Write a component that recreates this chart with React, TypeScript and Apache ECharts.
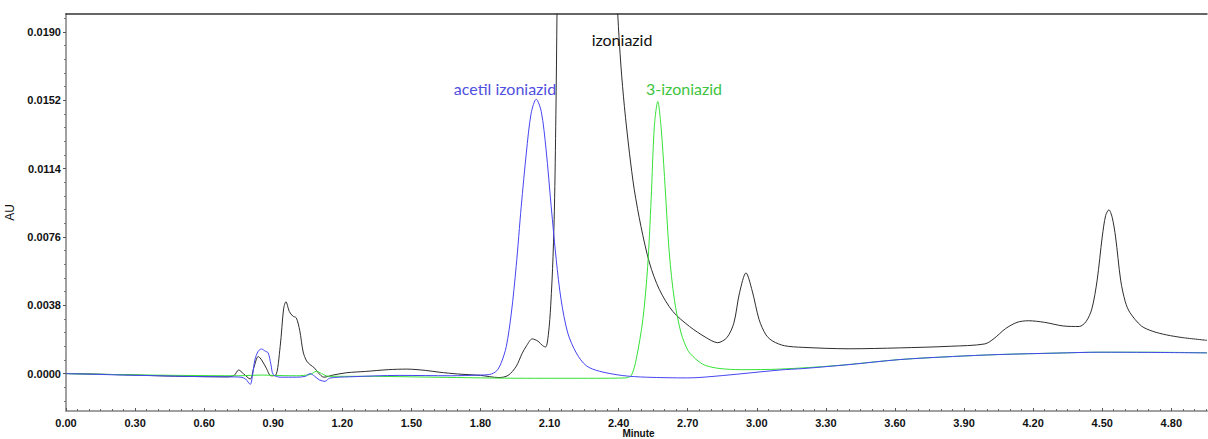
import React, { useEffect, useRef } from "react";
import * as echarts from "echarts";

// Retention time (minutes) and absorbance (AU) for each trace
const izoniazidT = [0.0, 0.1, 0.2, 0.3, 0.4, 0.5, 0.6, 0.7, 0.73, 0.75, 0.77, 0.8, 0.815, 0.835, 0.85, 0.87, 0.89, 0.91, 0.93, 0.945, 0.955, 0.97, 0.985, 1.0, 1.015, 1.03, 1.045, 1.06, 1.08, 1.095, 1.12, 1.16, 1.22, 1.3, 1.4, 1.48, 1.56, 1.62, 1.7, 1.8, 1.88, 1.92, 1.955, 1.98, 2.0, 2.025, 2.05, 2.07, 2.083, 2.095, 2.105, 2.115, 2.122, 2.128, 2.133, 2.14, 2.17, 2.22, 2.28, 2.34, 2.375, 2.396, 2.41, 2.425, 2.447, 2.468, 2.497, 2.534, 2.577, 2.635, 2.707, 2.78, 2.83, 2.87, 2.9, 2.925, 2.953, 2.98, 3.01, 3.04, 3.07, 3.12, 3.2, 3.4, 3.62, 3.84, 3.99, 4.03, 4.08, 4.13, 4.18, 4.25, 4.33, 4.4, 4.43, 4.455, 4.478, 4.5, 4.515, 4.529, 4.543, 4.558, 4.58, 4.6, 4.62, 4.67, 4.72, 4.78, 4.85, 4.955];
const izoniazidV = [0.0, -0.00002, -0.00005, -0.00008, -0.00012, -0.00015, -0.00017, -0.00018, -0.0001, 0.0002, 0.0, -0.0003, 0.0003, 0.00095, 0.00075, 0.0003, -0.00012, -0.0001, 0.0015, 0.0036, 0.004, 0.00345, 0.0032, 0.0031, 0.0024, 0.0012, 0.0007, 0.0005, 0.0003, 0.00005, -0.0002, -0.00008, 0.00005, 0.00012, 0.00022, 0.00025, 0.00018, 0.00008, -0.00002, -0.0001, -0.00022, -0.0001, 0.0004, 0.0011, 0.00155, 0.00193, 0.0018, 0.00155, 0.00148, 0.0022, 0.0038, 0.0065, 0.0098, 0.015, 0.021, 0.029, 0.042, 0.05, 0.047, 0.035, 0.026, 0.02, 0.0171, 0.01485, 0.01226, 0.01022, 0.00818, 0.00615, 0.00467, 0.00346, 0.00263, 0.002, 0.00172, 0.002, 0.0028, 0.0045, 0.0056, 0.0046, 0.003, 0.00215, 0.0018, 0.00155, 0.00146, 0.00138, 0.00143, 0.00152, 0.00165, 0.00195, 0.0025, 0.00285, 0.00294, 0.00285, 0.00265, 0.00262, 0.0029, 0.0036, 0.0052, 0.0076, 0.0088, 0.00911, 0.0087, 0.0076, 0.0052, 0.004, 0.0034, 0.00265, 0.00235, 0.00215, 0.002, 0.00185];

const acetilT = [0.0, 0.1, 0.25, 0.4, 0.55, 0.7, 0.76, 0.78, 0.8, 0.81, 0.82, 0.835, 0.849, 0.865, 0.878, 0.89, 0.9, 0.93, 1.0, 1.04, 1.06, 1.08, 1.1, 1.125, 1.145, 1.23, 1.45, 1.67, 1.8, 1.84, 1.87, 1.89, 1.912, 1.934, 1.955, 1.977, 1.999, 2.02, 2.042, 2.064, 2.085, 2.107, 2.129, 2.15, 2.179, 2.216, 2.259, 2.317, 2.418, 2.52, 2.7, 2.85, 3.1, 3.2, 3.4, 3.62, 3.85, 4.05, 4.3, 4.49, 4.7, 4.955];
const acetilV = [0.0, -0.00003, -0.00008, -0.00012, -0.00016, -0.00018, -0.0002, -0.0003, -0.0006, -0.0001, 0.00075, 0.00125, 0.00137, 0.00125, 0.00115, 0.0005, -0.00005, -0.0002, -0.0002, -0.00015, 0.0, -0.00015, -0.00035, -0.00043, -0.00025, -0.00018, -0.0001, -0.00012, -0.00008, -0.00005, 0.00015, 0.0006, 0.0015, 0.00337, 0.00596, 0.0093, 0.01226, 0.01448, 0.01526, 0.01457, 0.01244, 0.0093, 0.00633, 0.00411, 0.00226, 0.00115, 0.00044, 0.00013, -0.00011, -0.0002, -0.00024, -0.00011, 0.0002, 0.00028, 0.0005, 0.00078, 0.00095, 0.00106, 0.00114, 0.00119, 0.00118, 0.00115];

const izo3T = [0.0, 0.2, 0.5, 0.75, 0.8, 0.85, 0.9, 1.0, 1.06, 1.088, 1.11, 1.14, 1.3, 1.6, 2.0, 2.3, 2.43, 2.455, 2.476, 2.505, 2.526, 2.541, 2.555, 2.57, 2.584, 2.599, 2.62, 2.642, 2.671, 2.7, 2.722, 2.75, 2.78, 2.84, 2.93, 3.1, 3.35, 3.62, 3.85, 4.05, 4.3, 4.49, 4.7, 4.955];
const izo3V = [0.0, -0.00005, -0.0001, -0.00012, -0.0001, -0.00008, -0.0001, -0.00012, -0.00005, 0.00013, 0.0, -0.00015, -0.00015, -0.0002, -0.00026, -0.00026, -0.00024, -0.0001, 0.00078, 0.003, 0.00596, 0.00967, 0.01374, 0.01513, 0.01374, 0.01096, 0.0067, 0.00411, 0.00226, 0.0013, 0.00096, 0.00065, 0.00044, 0.00028, 0.00022, 0.00025, 0.00045, 0.00078, 0.00095, 0.00106, 0.00114, 0.00119, 0.00119, 0.00116];

// Axis tick labels
const yTicks = [0.0, 0.0038, 0.0076, 0.0114, 0.0152, 0.019];
const xTicks = [0.0, 0.3, 0.6, 0.9, 1.2, 1.5, 1.8, 2.1, 2.4, 2.7, 3.0, 3.3, 3.6, 3.9, 4.2, 4.5, 4.8];

const Y_MIN = -0.00208;
const Y_MAX = 0.02;
const X_MIN = 0;
const X_MAX = 4.955;

const zip = (t: number[], v: number[]) => t.map((x, i) => [x, v[i]]);

export default function App() {
  const ref = useRef<HTMLDivElement>(null);
  useEffect(() => {
    const chart = echarts.init(ref.current!, undefined, { renderer: "svg" });
    const labelFont = { fontFamily: "Liberation Sans", fontWeight: "bold" as const, fontSize: 11, color: "#111" };

    // minor tick positions: 5 subdivisions between y labels, 6 between x labels
    const yStep = yTicks[1] - yTicks[0];
    const yMinor: number[] = [];
    for (let k = -3; k <= 27; k++) {
      const v = (k * yStep) / 5;
      if (v > Y_MIN && v < Y_MAX && k % 5 !== 0) yMinor.push(v);
    }
    const xStep = xTicks[1] - xTicks[0];
    const xMinor: number[] = [];
    for (let k = 0; k <= 100; k++) {
      const v = (k * xStep) / 6;
      if (v < X_MAX && k % 6 !== 0) xMinor.push(v);
    }

    const axisNoDraw = {
      axisLabel: { show: false },
      splitLine: { show: false },
    };

    chart.setOption({
      animation: false,
      backgroundColor: "#fff",
      grid: { left: 66, right: 1, top: 14, bottom: 28, containLabel: false, outerBoundsMode: "none" },
      xAxis: [
        {
          type: "value",
          min: X_MIN,
          max: X_MAX,
          name: "Minute",
          nameLocation: "middle",
          nameGap: 17,
          nameMoveOverlap: false,
          nameTextStyle: { fontFamily: "Liberation Sans", fontWeight: "bold", fontSize: 10, color: "#111", padding: [0, 0, 0, 4] },
          axisLine: { show: true, onZero: false, lineStyle: { color: "#a0a0a0", width: 2 } },
          axisTick: { show: true, inside: true, length: 3, customValues: xTicks, lineStyle: { color: "#555" } },
          splitLine: { show: false },
          axisLabel: { ...labelFont, margin: 6, customValues: xTicks, formatter: (v: number) => v.toFixed(2) },
        },
        {
          type: "value",
          position: "top",
          min: X_MIN,
          max: X_MAX,
          axisLine: { show: true, onZero: false, lineStyle: { color: "#333", width: 1.5 } },
          axisTick: { show: false },
          ...axisNoDraw,
        },
        {
          type: "value",
          position: "bottom",
          min: X_MIN,
          max: X_MAX,
          axisLine: { show: false, onZero: false },
          axisTick: { show: true, inside: true, length: 2, customValues: xMinor, lineStyle: { color: "#666" } },
          ...axisNoDraw,
        },
      ],
      yAxis: [
        {
          type: "value",
          min: Y_MIN,
          max: Y_MAX,
          name: "AU",
          nameLocation: "middle",
          nameRotate: 90,
          nameGap: 50,
          nameTextStyle: { fontFamily: "Liberation Sans", fontSize: 12, color: "#111" },
          axisLine: { show: true, onZero: false, lineStyle: { color: "#a0a0a0", width: 2 } },
          axisTick: { show: true, length: 3, customValues: yTicks, lineStyle: { color: "#555" } },
          splitLine: { show: false },
          axisLabel: { ...labelFont, margin: 5, customValues: yTicks, formatter: (v: number) => v.toFixed(4) },
        },
        {
          type: "value",
          position: "left",
          min: Y_MIN,
          max: Y_MAX,
          axisLine: { show: false, onZero: false },
          axisTick: { show: true, length: 2, customValues: yMinor, lineStyle: { color: "#777" } },
          ...axisNoDraw,
        },
      ],
      series: [
        {
          type: "line",
          name: "izoniazid",
          data: zip(izoniazidT, izoniazidV),
          showSymbol: false,
          smooth: 0.3,
          lineStyle: { color: "#2e2e2e", width: 1 },
        },
        {
          type: "line",
          name: "3-izoniazid",
          data: zip(izo3T, izo3V),
          showSymbol: false,
          smooth: 0.3,
          lineStyle: { color: "#36e236", width: 1 },
        },
        {
          type: "line",
          name: "acetil izoniazid",
          data: zip(acetilT, acetilV),
          showSymbol: false,
          smooth: 0.3,
          lineStyle: { color: "#4545f2", width: 1 },
        },
      ],
      graphic: [
        { type: "text", x: 505, y: 88, style: { text: "acetil izoniazid", fill: "#4f4fe0", font: "16px Lato", align: "center", verticalAlign: "middle" } },
        { type: "text", x: 622, y: 39, style: { text: "izoniazid", fill: "#111", font: "16px Lato", align: "center", verticalAlign: "middle" } },
        { type: "text", x: 684, y: 88, style: { text: "3-izoniazid", fill: "#3cc43c", font: "16px Lato", align: "center", verticalAlign: "middle" } },
      ],
    });
    return () => chart.dispose();
  }, []);
  return <div ref={ref} style={{ position: "fixed", left: 0, top: 0, width: 1208, height: 439 }} />;
}
